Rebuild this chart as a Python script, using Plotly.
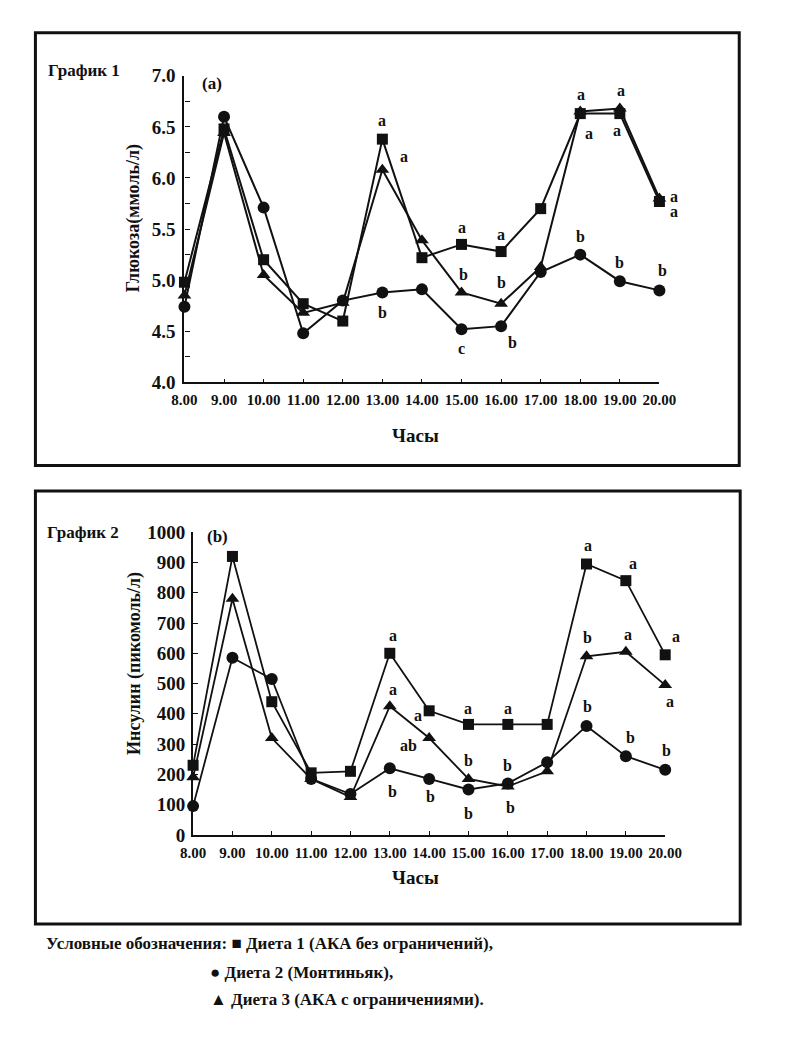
import plotly.graph_objects as go

# ---------------- data ----------------
hours = [8, 9, 10, 11, 12, 13, 14, 15, 16, 17, 18, 19, 20]
hour_labels = ["8.00", "9.00", "10.00", "11.00", "12.00", "13.00", "14.00",
               "15.00", "16.00", "17.00", "18.00", "19.00", "20.00"]

glucose_d1 = [4.98, 6.48, 5.20, 4.77, 4.60, 6.38, 5.22, 5.35, 5.28, 5.70, 6.63, 6.63, 5.77]
glucose_d2 = [4.74, 6.60, 5.71, 4.48, 4.80, 4.88, 4.91, 4.52, 4.55, 5.08, 5.25, 4.99, 4.90]
glucose_d3 = [4.85, 6.44, 5.05, 4.68, 4.78, 6.08, 5.39, 4.88, 4.77, 5.13, 6.65, 6.68, 5.80]

insulin_d1 = [230, 920, 440, 205, 210, 600, 410, 365, 365, 365, 895, 840, 595]
insulin_d2 = [95, 585, 515, 185, 135, 220, 185, 150, 170, 240, 360, 260, 215]
insulin_d3 = [190, 780, 320, 185, 125, 425, 320, 185, 160, 210, 590, 605, 495]

series_names = ["Диета 1 (АКА без ограничений)", "Диета 2 (Монтиньяк)", "Диета 3 (АКА с ограничениями)"]

# significance letters: (hour, series, letter)
glucose_letters = [
    (13, "d1", "a"), (13, "d3", "a"), (13, "d2", "b"),
    (15, "d1", "a"), (15, "d3", "b"), (15, "d2", "c"),
    (16, "d1", "a"), (16, "d3", "b"), (16, "d2", "b"),
    (18, "d3", "a"), (18, "d1", "a"), (18, "d2", "b"),
    (19, "d3", "a"), (19, "d1", "a"), (19, "d2", "b"),
    (20, "d1", "a"), (20, "d3", "a"), (20, "d2", "b"),
]
insulin_letters = [
    (13, "d1", "a"), (13, "d3", "a"), (13, "d2", "b"),
    (14, "d1", "a"), (14, "d3", "ab"), (14, "d2", "b"),
    (15, "d1", "a"), (15, "d3", "b"), (15, "d2", "b"),
    (16, "d1", "a"), (16, "d2", "b"), (16, "d3", "b"),
    (18, "d1", "a"), (18, "d3", "b"), (18, "d2", "b"),
    (19, "d1", "a"), (19, "d3", "a"), (19, "d2", "b"),
    (20, "d1", "a"), (20, "d3", "a"), (20, "d2", "b"),
]

# ---------------- styles / layout helpers ----------------
W, H = 779, 1023          # figure size (page body keeps its default 8px margin)
OX, OY = 8, 8


def px(X):
    return (X - OX) / W


def py(Y):
    return 1 - (Y - OY) / H


SERIF = "Liberation Serif"
BLACK = "#111111"

# pixel offsets for the letters (dx, dy; dy up-positive)
glucose_offsets = [
    (0, 19), (22, 13), (0, -20),
    (0, 17), (2, 18), (0, -19),
    (0, 17), (0, 21), (11, -16),
    (1, 17), (9, -20), (0, 18),
    (1, 18), (-3, -17), (0, 19),
    (15, 5), (15, -13), (3, 20),
]
insulin_offsets = [
    (3, 18), (3, 17), (3, -23),
    (-11, -5), (-21, -7), (1, -18),
    (0, 16), (0, 18), (0, -24),
    (0, 16), (0, 18), (3, -21),
    (1, 19), (1, 19), (1, 19),
    (7, 17), (2, 17), (5, 19),
    (11, 18), (5, -16), (1, 19),
]

fig = go.Figure()

marker_style = {
    "d1": dict(symbol="square", size=11),
    "d2": dict(symbol="circle", size=12),
    "d3": dict(symbol="triangle-up", size=12),
}
glu = {"d1": glucose_d1, "d2": glucose_d2, "d3": glucose_d3}
ins = {"d1": insulin_d1, "d2": insulin_d2, "d3": insulin_d3}
order = [("d3", series_names[2]), ("d1", series_names[0]), ("d2", series_names[1])]

for key, name in order:
    fig.add_trace(go.Scatter(
        x=hours, y=glu[key], mode="lines+markers", name=name, showlegend=False,
        line=dict(color=BLACK, width=2),
        marker=dict(color=BLACK, **marker_style[key]),
        cliponaxis=False, xaxis="x", yaxis="y"))
for key, name in order:
    fig.add_trace(go.Scatter(
        x=hours, y=ins[key], mode="lines+markers", name=name, showlegend=False,
        line=dict(color=BLACK, width=1.8),
        marker=dict(color=BLACK, **marker_style[key]),
        cliponaxis=False, xaxis="x2", yaxis="y2"))

tickfont_x = dict(family=SERIF, size=15, color=BLACK, weight="bold")
tickfont_y = dict(family=SERIF, size=19, color=BLACK, weight="bold")

common_x = dict(
    range=[8, 20], tickmode="array", tickvals=hours, ticktext=hour_labels,
    tickangle=0,
    ticks="inside", ticklen=4, tickwidth=1.3, tickcolor=BLACK,
    showline=True, linecolor=BLACK, linewidth=1.6, showgrid=False, zeroline=False,
    tickfont=tickfont_x, ticklabelstandoff=3,
)

fig.update_layout(
    width=W, height=H, autosize=False,
    margin=dict(l=0, r=0, t=0, b=0, pad=0),
    paper_bgcolor="white", plot_bgcolor="white",
    font=dict(family=SERIF, color=BLACK),
    xaxis=dict(domain=[px(178), px(672)], anchor="y", **common_x),
    yaxis=dict(domain=[py(380), py(67)], anchor="x", range=[4, 7],
               tickvals=[4.0, 4.5, 5.0, 5.5, 6.0, 6.5, 7.0], tickformat=".1f",
               ticks="inside", ticklen=5, tickwidth=1.3, tickcolor=BLACK,
               minor=dict(ticks="inside", dtick=0.25, ticklen=5, tickwidth=1.3, tickcolor=BLACK),
               showline=True, linecolor=BLACK, linewidth=2.2, showgrid=False, zeroline=False,
               tickfont=tickfont_y, ticklabelstandoff=3),
    xaxis2=dict(domain=[px(187), px(678)], anchor="y2", **common_x),
    yaxis2=dict(domain=[py(842), py(533)], anchor="x2", range=[0, 1000],
                tickvals=list(range(0, 1001, 100)),
                ticks="inside", ticklen=5, tickwidth=1.3, tickcolor=BLACK,
                showline=True, linecolor=BLACK, linewidth=2.2, showgrid=False, zeroline=False,
                tickfont=tickfont_y, ticklabelstandoff=2),
)

# frames
fig.add_shape(type="rect", xref="paper", yref="paper",
              x0=px(23), x1=px(755), y0=py(465), y1=py(23),
              line=dict(color=BLACK, width=3))
fig.add_shape(type="rect", xref="paper", yref="paper",
              x0=px(23), x1=px(756), y0=py(933), y1=py(491),
              line=dict(color=BLACK, width=3))

annots = []


def text_at(X, Y, s, size=16, xanchor="center", angle=0):
    annots.append(dict(xref="paper", yref="paper", x=px(X), y=py(Y), text=s,
                       showarrow=False, xanchor=xanchor, yanchor="middle",
                       textangle=angle,
                       font=dict(family=SERIF, size=size, color=BLACK, weight="bold")))


text_at(74, 62, "График 1", 17)
text_at(207, 75, "(a)", 17)
text_at(125, 212, "Глюкоза(ммоль/л)", 18, angle=-90)
text_at(418, 434, "Часы", 19)

text_at(73, 533, "График 2", 17)
text_at(212, 537, "(b)", 17)
text_at(126, 667, "Инсулин (пикомоль/л)", 18, angle=-90)
text_at(418, 886, "Часы", 19)

text_at(32, 953, "Условные обозначения: ■ " + series_names[0] + ",", 17, xanchor="left")
text_at(203, 982, "● " + series_names[1] + ",", 17, xanchor="left")
text_at(203, 1010, "▲ " + series_names[2] + ".", 17, xanchor="left")

for (h, key, s), (dx, dy) in zip(glucose_letters, glucose_offsets):
    annots.append(dict(xref="x", yref="y", x=h, y=glu[key][hours.index(h)], text=s,
                       showarrow=False, xshift=dx, yshift=dy,
                       font=dict(family=SERIF, size=16, color=BLACK, weight="bold")))
for (h, key, s), (dx, dy) in zip(insulin_letters, insulin_offsets):
    annots.append(dict(xref="x2", yref="y2", x=h, y=ins[key][hours.index(h)], text=s,
                       showarrow=False, xshift=dx, yshift=dy,
                       font=dict(family=SERIF, size=16, color=BLACK, weight="bold")))

fig.update_layout(annotations=annots)

fig.write_html("out.html")
